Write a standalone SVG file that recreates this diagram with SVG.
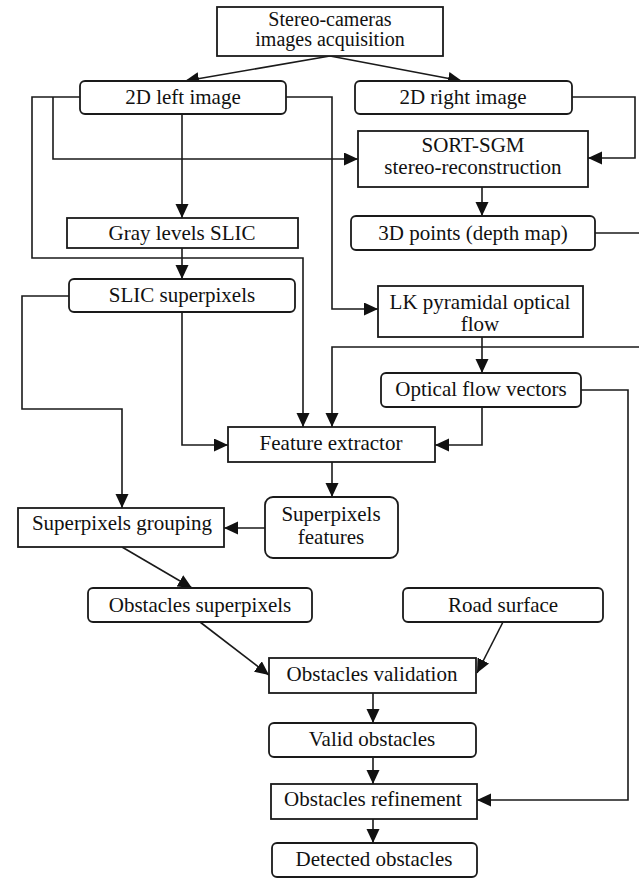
<svg xmlns="http://www.w3.org/2000/svg" width="639" height="878" viewBox="0 0 639 878">
<style>
.b{fill:#fff;stroke:#1a1a1a;stroke-width:1.8}
.t{font-family:"Liberation Serif","Times New Roman",serif;font-size:21px;fill:#111;text-anchor:middle}
.s{font-size:20px}
.c{fill:none;stroke:#1a1a1a;stroke-width:1.6}
</style>
<defs>
<marker id="a" markerUnits="userSpaceOnUse" markerWidth="15" markerHeight="14" refX="14" refY="6.5" orient="auto">
<path d="M0,0 L14,6.5 L0,13 z" fill="#111"/>
</marker>
</defs>
<rect width="639" height="878" fill="#fff"/>
<g id="connectors">
<path class="c" d="M330,56 L185,81" marker-end="url(#a)"/>
<path class="c" d="M330,56 L462,81" marker-end="url(#a)"/>
<path class="c" d="M80,97 L32,97 L32,258 L303,258 L303,427" marker-end="url(#a)"/>
<path class="c" d="M53,97 L53,159 L358,159" marker-end="url(#a)"/>
<path class="c" d="M286,97 L332,97 L332,309 L378,309" marker-end="url(#a)"/>
<path class="c" d="M182,114 L182,218" marker-end="url(#a)"/>
<path class="c" d="M572,97 L635,97 L635,158 L588,158" marker-end="url(#a)"/>
<path class="c" d="M482,187 L482,216" marker-end="url(#a)"/>
<path class="c" d="M595,233 L639,233"/>
<path class="c" d="M639,347 L332,347 L332,427" marker-end="url(#a)"/>
<path class="c" d="M182,248 L182,279" marker-end="url(#a)"/>
<path class="c" d="M182,312 L182,445 L228,445" marker-end="url(#a)"/>
<path class="c" d="M69,296 L22,296 L22,409 L122,409 L122,508" marker-end="url(#a)"/>
<path class="c" d="M482,337 L482,373" marker-end="url(#a)"/>
<path class="c" d="M482,407 L482,445 L435,445" marker-end="url(#a)"/>
<path class="c" d="M581,390 L628,390 L628,800 L477,800" marker-end="url(#a)"/>
<path class="c" d="M332,462 L332,497" marker-end="url(#a)"/>
<path class="c" d="M265,528 L224,528" marker-end="url(#a)"/>
<path class="c" d="M122,547 L192,588" marker-end="url(#a)"/>
<path class="c" d="M200,622 L269,675" marker-end="url(#a)"/>
<path class="c" d="M503,622 L477,673" marker-end="url(#a)"/>
<path class="c" d="M373,693 L373,723" marker-end="url(#a)"/>
<path class="c" d="M373,757 L373,784" marker-end="url(#a)"/>
<path class="c" d="M373,819 L373,843" marker-end="url(#a)"/>
</g>
<g id="n-stereo"><rect class="b" x="217" y="7" width="226" height="49"/><text class="t s" x="330" y="26">Stereo-cameras</text><text class="t s" x="330" y="46">images acquisition</text></g>
<g id="n-left"><rect class="b" x="80" y="81" width="206" height="33" rx="5"/><text class="t" x="183" y="104">2D left image</text></g>
<g id="n-right"><rect class="b" x="355" y="81" width="217" height="33" rx="5"/><text class="t" x="463" y="104">2D right image</text></g>
<g id="n-sgm"><rect class="b" x="358" y="131" width="230" height="56"/><text class="t" x="473" y="152">SORT-SGM</text><text class="t" x="473" y="174">stereo-reconstruction</text></g>
<g id="n-gray"><rect class="b" x="67" y="218" width="231" height="30"/><text class="t" x="182" y="240">Gray levels SLIC</text></g>
<g id="n-3d"><rect class="b" x="351" y="216" width="244" height="34" rx="5"/><text class="t" x="473" y="240">3D points (depth map)</text></g>
<g id="n-slic"><rect class="b" x="69" y="279" width="226" height="33" rx="5"/><text class="t" x="182" y="302">SLIC superpixels</text></g>
<g id="n-lk"><rect class="b" x="378" y="286" width="205" height="51"/><text class="t" x="480" y="309">LK pyramidal optical</text><text class="t" x="480" y="331">flow</text></g>
<g id="n-ofv"><rect class="b" x="381" y="373" width="200" height="34" rx="5"/><text class="t" x="481" y="396">Optical flow vectors</text></g>
<g id="n-fe"><rect class="b" x="228" y="427" width="207" height="35"/><text class="t" x="331" y="450">Feature extractor</text></g>
<g id="n-spf"><rect class="b" x="265" y="497" width="133" height="61" rx="8"/><text class="t" x="331" y="521">Superpixels</text><text class="t" x="331" y="544">features</text></g>
<g id="n-grp"><rect class="b" x="18" y="508" width="206" height="39"/><text class="t" x="122" y="530">Superpixels grouping</text></g>
<g id="n-osp"><rect class="b" x="88" y="588" width="224" height="34" rx="5"/><text class="t" x="200" y="612">Obstacles superpixels</text></g>
<g id="n-road"><rect class="b" x="403" y="588" width="200" height="34" rx="5"/><text class="t" x="503" y="612">Road surface</text></g>
<g id="n-val"><rect class="b" x="269" y="658" width="207" height="35"/><text class="t" x="372" y="681">Obstacles validation</text></g>
<g id="n-valid"><rect class="b" x="269" y="723" width="207" height="34" rx="5"/><text class="t" x="372" y="746">Valid obstacles</text></g>
<g id="n-ref"><rect class="b" x="271" y="784" width="206" height="35"/><text class="t" x="373" y="806">Obstacles refinement</text></g>
<g id="n-det"><rect class="b" x="272" y="843" width="205" height="34" rx="5"/><text class="t" x="374" y="866">Detected obstacles</text></g>
</svg>
